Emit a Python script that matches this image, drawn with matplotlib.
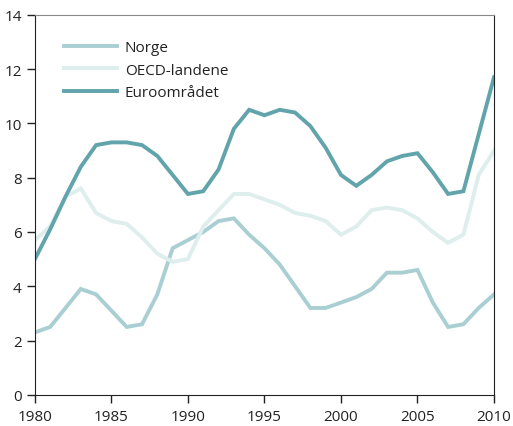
import matplotlib
matplotlib.use("Agg")
import matplotlib.pyplot as plt

years = list(range(1980, 2011))
norge = [2.3, 2.5, 3.2, 3.9, 3.7, 3.1, 2.5, 2.6, 3.7, 5.4, 5.7, 6.0, 6.4, 6.5, 5.9, 5.4,
         4.8, 4.0, 3.2, 3.2, 3.4, 3.6, 3.9, 4.5, 4.5, 4.6, 3.4, 2.5, 2.6, 3.2, 3.7]
oecd = [5.7, 6.2, 7.3, 7.6, 6.7, 6.4, 6.3, 5.8, 5.2, 4.9, 5.0, 6.2, 6.8, 7.4, 7.4, 7.2,
        7.0, 6.7, 6.6, 6.4, 5.9, 6.2, 6.8, 6.9, 6.8, 6.5, 6.0, 5.6, 5.9, 8.1, 9.0]
euro = [5.0, 6.1, 7.3, 8.4, 9.2, 9.3, 9.3, 9.2, 8.8, 8.1, 7.4, 7.5, 8.3, 9.8, 10.5, 10.3,
        10.5, 10.4, 9.9, 9.1, 8.1, 7.7, 8.1, 8.6, 8.8, 8.9, 8.2, 7.4, 7.5, 9.6, 11.7]
labels = ["Norge", "OECD-landene", "Euroområdet"]
colors = ["#a9cfd3", "#ddeeed", "#62a4ab"]
xticks = [1980, 1985, 1990, 1995, 2000, 2005, 2010]
yticks = [0, 2, 4, 6, 8, 10, 12, 14]

plt.rcParams['font.family'] = ['Open Sans', 'DejaVu Sans']
fig = plt.figure(figsize=(5.13, 4.27), dpi=100)
ax = fig.add_axes([0.068, 0.073, 0.895, 0.89])

for series, lab, col in zip([norge, oecd, euro], labels, colors):
    ax.plot(years, series, color=col, lw=2.8, label=lab, solid_joinstyle='miter')

ax.set_xlim(1980, 2010)
ax.set_ylim(0, 14)
ax.set_xticks(xticks)
ax.set_yticks(yticks)
ax.tick_params(labelsize=11, colors='#222222', length=5.5, width=1, direction='out')
ax.tick_params(axis='x', pad=5)
ax.tick_params(axis='y', pad=4)
for s in ['left', 'bottom', 'right']:
    ax.spines[s].set_color('#222222')
ax.spines['top'].set_color('#888888')

leg = ax.legend(loc='upper left', frameon=False, fontsize=11, handlelength=3.5,
                bbox_to_anchor=(0.033, 0.97), labelspacing=0.5, handletextpad=0.5)
for t in leg.get_texts():
    t.set_color('#222222')

fig.savefig("out.png", dpi=100)
